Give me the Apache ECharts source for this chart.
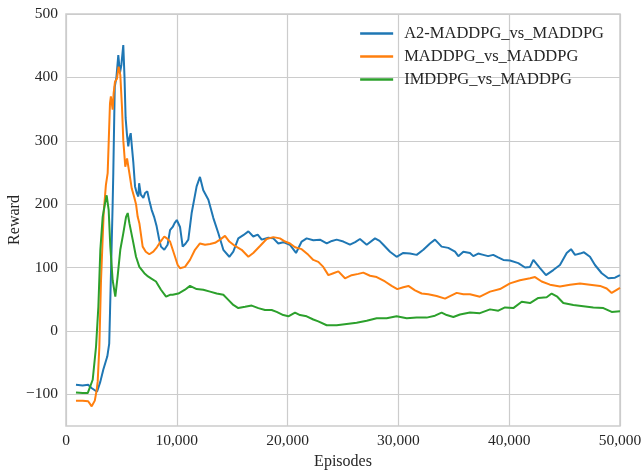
<!DOCTYPE html>
<html>
<head>
<meta charset="utf-8">
<script src="https://cdn.jsdelivr.net/npm/echarts@6/dist/echarts.min.js"></script>
<style>
  html, body { margin: 0; padding: 0; background: #fff; }
  #chart { width: 643px; height: 470px; }
</style>
</head>
<body>
<div id="chart"></div>
<script>
// legend names
const seriesNames = ['A2-MADDPG_vs_MADDPG', 'MADDPG_vs_MADDPG', 'IMDDPG_vs_MADDPG']

// A2-MADDPG_vs_MADDPG
const a2Episodes = [900, 1500, 2000, 2300, 2800, 3100, 3370, 3730, 3900, 3970, 4100, 4210, 4270, 4400, 4550, 4720, 4870, 5000, 5170, 5280, 5380, 5500, 5620, 5730, 5840, 5950, 6080, 6230, 6380, 6530, 6600, 6750, 6980, 7150, 7340, 7530, 7730, 7950, 8180, 8400, 8570, 8870, 9170, 9390, 9630, 9800, 10000, 10290, 10530, 10800, 11040, 11340, 11790, 12090, 12390, 12850, 13300, 13750, 14200, 14740, 15100, 15550, 16000, 16460, 16900, 17300, 17660, 18260, 18710, 19160, 19610, 20200, 20760, 21270, 21720, 22320, 22920, 23530, 24000, 24430, 25030, 25630, 26100, 26530, 27140, 27890, 28300, 28640, 29240, 29840, 30440, 31050, 31650, 32250, 32850, 33300, 33900, 34500, 35110, 35410, 35860, 36460, 36760, 37200, 37660, 38100, 38560, 39000, 39470, 40070, 40820, 41430, 41880, 42180, 42780, 43320, 43980, 44580, 45190, 45580, 45940, 46390, 46750, 47290, 47740, 48350, 48950, 49550, 50000]
const a2Reward = [-85, -86, -85, -90, -96, -80, -61, -40, -20, 28, 120, 200, 250, 385, 400, 435, 407, 420, 451, 400, 336, 310, 291, 305, 312, 290, 265, 228, 218, 212, 233, 215, 210, 218, 220, 205, 191, 180, 165, 145, 133, 128, 136, 159, 164, 170, 175, 164, 133, 138, 144, 186, 228, 243, 222, 207, 178, 154, 128, 117, 125, 146, 151, 157, 149, 152, 144, 147, 146, 138, 140, 136, 123, 141, 146, 143, 144, 138, 142, 144, 141, 136, 140, 145, 136, 146, 142, 136, 125, 117, 123, 122, 120, 128, 138, 144, 133, 131, 125, 118, 125, 123, 118, 122, 120, 118, 120, 116, 112, 111, 107, 100, 101, 112, 99, 88, 96, 104, 123, 129, 120, 122, 124, 117, 104, 91, 83, 84, 88]

// MADDPG_vs_MADDPG
const maddpgEpisodes = [900, 1500, 2000, 2320, 2600, 2770, 2860, 3010, 3160, 3400, 3600, 3760, 3970, 4050, 4120, 4210, 4300, 4420, 4600, 4750, 4900, 5050, 5170, 5350, 5510, 5720, 5930, 6170, 6320, 6470, 6620, 6920, 7200, 7520, 7880, 8200, 8420, 8870, 9100, 9390, 9840, 10080, 10290, 10740, 11190, 11640, 12090, 12550, 13000, 13450, 13900, 14350, 14740, 15250, 15850, 16460, 16900, 17510, 18110, 18710, 19310, 19770, 20220, 20670, 21270, 21870, 22320, 22770, 23220, 23680, 24130, 24580, 25180, 25780, 26380, 26830, 27440, 28040, 28790, 29390, 29900, 30440, 30900, 31500, 32100, 32700, 33450, 34210, 34660, 35260, 35860, 36460, 37360, 38270, 39170, 40070, 40970, 41880, 42330, 42930, 43680, 44580, 45490, 46390, 47290, 48200, 48800, 49250, 50000]
const maddpgReward = [-110, -110, -111, -119, -110, -93, -80, -25, 80, 186, 230, 249, 359, 370, 372, 349, 375, 393, 398, 417, 404, 354, 301, 259, 272, 249, 225, 210, 200, 180, 170, 133, 125, 121, 125, 132, 138, 149, 146, 141, 117, 104, 99, 101, 112, 128, 138, 136, 137, 139, 144, 150, 141, 134, 128, 117, 123, 134, 145, 148, 146, 141, 138, 132, 129, 120, 112, 109, 101, 88, 91, 94, 83, 88, 90, 92, 87, 85, 78, 71, 66, 69, 71, 64, 59, 58, 55, 51, 55, 60, 58, 58, 54, 62, 66, 75, 80, 83, 85, 78, 73, 70, 73, 75, 73, 71, 67, 60, 68]

// IMDDPG_vs_MADDPG
const imddpgEpisodes = [900, 1500, 1960, 2410, 2710, 2920, 3100, 3310, 3520, 3670, 3850, 4000, 4210, 4450, 4660, 4900, 5170, 5420, 5570, 5720, 6020, 6320, 6620, 7070, 7400, 7670, 8120, 8570, 9030, 9390, 9630, 10140, 10740, 11190, 11790, 12390, 13000, 13600, 14200, 14650, 15100, 15550, 16160, 16760, 17360, 17960, 18560, 19010, 19610, 20070, 20670, 21120, 21720, 22320, 22770, 23530, 24430, 25330, 26230, 27140, 28040, 28940, 29840, 30750, 31650, 32550, 33300, 33900, 34360, 34960, 35560, 36460, 37360, 38270, 39020, 39620, 40370, 41130, 41880, 42630, 43380, 43830, 44340, 44880, 45790, 46690, 47590, 48500, 49250, 50000]
const imddpgReward = [-97, -98, -98, -77, -25, 38, 128, 180, 201, 214, 191, 133, 80, 54, 86, 128, 154, 180, 186, 170, 144, 117, 101, 91, 86, 83, 78, 65, 54, 57, 57, 59, 65, 71, 66, 65, 62, 59, 57, 49, 41, 36, 38, 40, 36, 33, 33, 30, 25, 23, 29, 25, 23, 18, 15, 9, 9, 11, 13, 16, 20, 20, 23, 20, 21, 21, 24, 29, 25, 22, 26, 29, 28, 34, 32, 37, 36, 46, 44, 52, 53, 59, 54, 44, 41, 39, 37, 36, 30, 31]

const xTicks = [0, 10000, 20000, 30000, 40000, 50000]
const yTicks = [-100, 0, 100, 200, 300, 400, 500]

const colors = ['#1f77b4', '#ff7f0e', '#2ca02c']
const fontFamily = '"Liberation Serif", "DejaVu Serif", serif'
const textColor = '#262626'

function zip(xs, ys) {
  return xs.map((x, i) => [x, ys[i]])
}

const chart = echarts.init(document.getElementById('chart'))
chart.setOption({
  animation: false,
  color: colors,
  textStyle: { fontFamily: fontFamily },
  grid: {
    left: 66,
    right: 23,
    top: 14,
    bottom: 44,
    containLabel: false,
    outerBoundsMode: 'none',
    show: true,
    borderColor: '#cccccc',
    borderWidth: 1.5
  },
  legend: {
    data: seriesNames,
    orient: 'vertical',
    right: 34,
    top: 20,
    icon: 'rect',
    itemWidth: 33,
    itemHeight: 2.5,
    itemGap: 6,
    textStyle: {
      fontSize: 16.5,
      color: textColor,
      padding: [0, 0, 0, 6]
    }
  },
  xAxis: {
    type: 'value',
    min: 0,
    max: 50000,
    interval: 10000,
    name: 'Episodes',
    nameLocation: 'middle',
    nameGap: 26,
    nameTextStyle: { fontSize: 16, color: textColor },
    axisLine: { show: false },
    axisTick: { show: false },
    axisLabel: {
      fontSize: 15.5,
      color: textColor,
      margin: 7,
      customValues: xTicks,
      formatter: v => v.toLocaleString('en-US')
    },
    splitLine: { lineStyle: { color: '#cccccc', width: 1.2 } }
  },
  yAxis: {
    type: 'value',
    min: -150,
    max: 500,
    name: 'Reward',
    nameLocation: 'middle',
    nameGap: 43,
    nameMoveOverlap: false,
    nameTextStyle: { fontSize: 16, color: textColor },
    axisLine: { show: false },
    axisTick: { show: false, customValues: yTicks },
    axisLabel: {
      fontSize: 15.5,
      color: textColor,
      margin: 8,
      customValues: yTicks,
      formatter: v => String(v).replace('-', '\u2212')
    },
    splitLine: { lineStyle: { color: '#cccccc', width: 1.2 } }
  },
  series: [
    {
      name: seriesNames[0],
      type: 'line',
      symbol: 'none',
      lineStyle: { width: 2 },
      data: zip(a2Episodes, a2Reward)
    },
    {
      name: seriesNames[1],
      type: 'line',
      symbol: 'none',
      lineStyle: { width: 2 },
      data: zip(maddpgEpisodes, maddpgReward)
    },
    {
      name: seriesNames[2],
      type: 'line',
      symbol: 'none',
      lineStyle: { width: 2 },
      data: zip(imddpgEpisodes, imddpgReward)
    }
  ]
})
</script>
</body>
</html>
